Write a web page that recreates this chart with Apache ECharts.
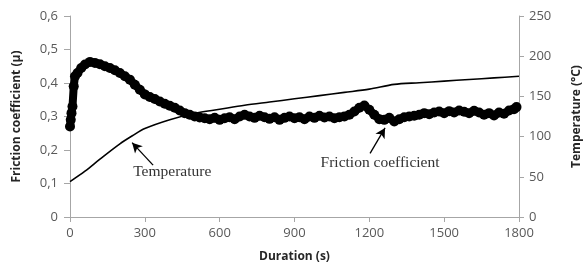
<!DOCTYPE html>
<html><head><meta charset="utf-8">
<script src="https://cdn.jsdelivr.net/npm/echarts@6/dist/echarts.min.js"></script>
<style>html,body{margin:0;padding:0;background:#fff}#c{width:583px;height:270px}</style>
</head><body><div id="c"></div>
<script>
// Friction coefficient (left axis)
const frictionTime = [0,3,6,10,15,20,30,45,60,80,100,120,140,160,180,200,220,240,260,280,300,320,340,360,380,400,420,440,460,480,500,520,540,560,580,600,620,640,660,680,700,720,740,760,780,800,820,840,860,880,900,920,940,960,980,1000,1020,1040,1060,1080,1100,1120,1140,1160,1180,1200,1220,1240,1260,1280,1300,1320,1340,1360,1380,1400,1420,1440,1460,1480,1500,1520,1540,1560,1580,1600,1620,1640,1660,1680,1700,1720,1740,1760,1780,1790];
const frictionValue = [0.27,0.29,0.31,0.33,0.39,0.42,0.43,0.445,0.455,0.463,0.46,0.456,0.45,0.445,0.438,0.43,0.42,0.41,0.395,0.38,0.366,0.358,0.352,0.345,0.338,0.332,0.326,0.318,0.31,0.305,0.30,0.297,0.295,0.292,0.296,0.29,0.295,0.298,0.292,0.30,0.305,0.30,0.296,0.302,0.298,0.293,0.298,0.29,0.296,0.30,0.295,0.298,0.292,0.30,0.296,0.302,0.297,0.30,0.295,0.298,0.30,0.305,0.315,0.326,0.333,0.32,0.305,0.292,0.29,0.296,0.285,0.292,0.298,0.30,0.302,0.305,0.31,0.307,0.312,0.315,0.31,0.316,0.312,0.318,0.314,0.31,0.317,0.312,0.305,0.31,0.303,0.312,0.308,0.318,0.322,0.328];
// Temperature (right axis)
const tempTime = [0,60,120,200,250,300,400,500,600,700,800,900,1000,1100,1200,1300,1400,1500,1600,1700,1800];
const tempValue = [44,57,72,91,101,110,121,129,134,139,143,147,151,155,159,165,167,169,171,173,175];
// Tick labels
const xTicks = [0,300,600,900,1200,1500,1800];
const leftTicks = ['0','0,1','0,2','0,3','0,4','0,5','0,6'];
const rightTicks = [0,50,100,150,200,250];

const chart = echarts.init(document.getElementById('c'), null, {renderer:'canvas'});
const gray = '#a6a6a6';
const tickFont = {color:'#595959', fontSize:13, fontFamily:'Open Sans'};
const nameFont = {color:'#262626', fontSize:12, fontWeight:'bold', fontFamily:'Open Sans'};
chart.setOption({
  animation:false,
  grid:{left:70, right:64, top:16, bottom:53, containLabel:false, outerBoundsMode:'none'},
  xAxis:{type:'value', min:0, max:1800, interval:300,
    name:'Duration (s)', nameLocation:'middle', nameGap:34, nameTextStyle:nameFont,
    axisLine:{lineStyle:{color:gray}}, axisTick:{show:true,length:5,lineStyle:{color:gray}},
    axisLabel:Object.assign({margin:10, formatter:v=>xTicks.includes(v)?String(v):''}, tickFont),
    splitLine:{show:false}},
  yAxis:[
    {type:'value', min:0, max:0.6, interval:0.1, position:'left',
     name:'Friction coefficient (µ)', nameLocation:'middle', nameGap:47, nameTextStyle:nameFont,
     axisLine:{show:true,lineStyle:{color:gray}}, axisTick:{show:true,length:6,lineStyle:{color:gray}},
     axisLabel:Object.assign({margin:12, formatter:v=>leftTicks[Math.round(v*10)]}, tickFont),
     splitLine:{show:false}},
    {type:'value', min:0, max:250, interval:50, position:'right',
     name:'Temperature (°C)', nameLocation:'middle', nameGap:52, nameTextStyle:nameFont,
     axisLine:{show:true,lineStyle:{color:gray}}, axisTick:{show:true,length:5,lineStyle:{color:gray}},
     axisLabel:Object.assign({margin:10, formatter:v=>rightTicks.includes(v)?String(v):''}, tickFont),
     splitLine:{show:false}}
  ],
  series:[
    {type:'line', yAxisIndex:1, data:tempTime.map((t,i)=>[t,tempValue[i]]), smooth:0.3,
     showSymbol:false, lineStyle:{color:'#000', width:1.6}, z:2},
    {type:'line', yAxisIndex:0, data:frictionTime.map((t,i)=>[t,frictionValue[i]]),
     symbol:'circle', symbolSize:10, itemStyle:{color:'#000'}, lineStyle:{color:'#000', width:8}, z:3,
     markLine:{silent:true, symbol:['none','arrow'], symbolSize:[8,10],
       lineStyle:{color:'#000', width:1.3, type:'solid'}, label:{show:false},
       data:[
         [{coord:[333,0.155]},{coord:[249,0.222]}],
         [{coord:[1203,0.19]},{coord:[1263,0.266]}]
       ]},
     markPoint:{silent:true, symbol:'circle', symbolSize:0,
       label:{show:true, color:'#333', fontSize:15.5, fontFamily:'Liberation Serif', position:'inside'},
       data:[
         {coord:[410,0.134], value:'Temperature', label:{formatter:'Temperature'}},
         {coord:[1243,0.162], value:'Friction coefficient', label:{formatter:'Friction coefficient'}}
       ]}
    }
  ]
});
</script></body></html>
